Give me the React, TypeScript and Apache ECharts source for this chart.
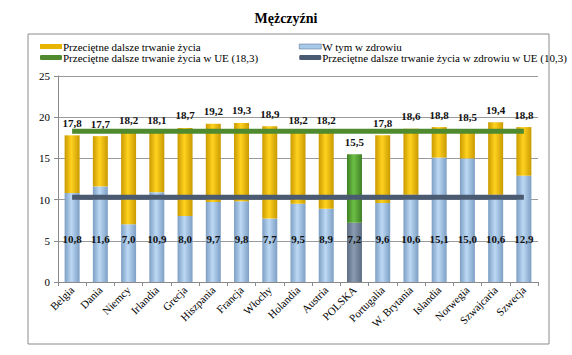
import React, { useEffect, useRef } from "react";
import * as echarts from "echarts";

const categories = [
  "Belgia", "Dania", "Niemcy", "Irlandia", "Grecja", "Hiszpania", "Francja", "Włochy",
  "Holandia", "Austria", "POLSKA", "Portugalia", "W. Brytania", "Islandia", "Norwegia",
  "Szwajcaria", "Szwecja",
];
const totalLife = [17.8, 17.7, 18.2, 18.1, 18.7, 19.2, 19.3, 18.9, 18.2, 18.2, 15.5, 17.8, 18.6, 18.8, 18.5, 19.4, 18.8];
const healthyLife = [10.8, 11.6, 7.0, 10.9, 8.0, 9.7, 9.8, 7.7, 9.5, 8.9, 7.2, 9.6, 10.6, 15.1, 15.0, 10.6, 12.9];
const euTotal = 18.3;
const euHealthy = 10.3;
const yTicks = [0, 5, 10, 15, 20, 25];

const FONT = "'Liberation Serif', 'Times New Roman', serif";
const fmt = (v: number) => v.toFixed(1).replace(".", ",");

const hGrad = (edge: string, mid: string) =>
  new echarts.graphic.LinearGradient(0, 0, 1, 0, [
    { offset: 0, color: edge },
    { offset: 0.45, color: mid },
    { offset: 1, color: edge },
  ]);

export default function App() {
  const ref = useRef<HTMLDivElement>(null);
  useEffect(() => {
    document.body.style.margin = "0";
    const chart = echarts.init(ref.current!, null, { renderer: "svg" });
    const polIdx = categories.indexOf("POLSKA");
    const yellow = hGrad("#c99a00", "#ffd21f");
    const blue = hGrad("#7d9fc4", "#bcd8f4");
    const green = hGrad("#3f7f24", "#6cbf45");
    const slate = hGrad("#5d6d82", "#8a9cb2");

    const healthyData = healthyLife.map((v, i) => ({
      value: v,
      itemStyle: { color: i === polIdx ? slate : blue },
    }));
    const restData = totalLife.map((t, i) => ({
      value: +(t - healthyLife[i]).toFixed(1),
      itemStyle: { color: i === polIdx ? green : yellow },
    }));

    const txt = { fontFamily: FONT, fontSize: 11, color: "#000" };

    chart.setOption({
      animation: false,
      textStyle: { fontFamily: FONT },
      title: {
        text: "Mężczyźni",
        left: "center",
        top: 6,
        textStyle: { fontFamily: FONT, fontSize: 14, fontWeight: "bold", color: "#000" },
      },
      graphic: [
        {
          type: "rect",
          shape: { x: 28, y: 34, width: 521, height: 310 },
          style: { fill: "none", stroke: "#8a8a8a", lineWidth: 1 },
          silent: true,
        },
      ],
      legend: [
        {
          left: 35,
          top: 36,
          orient: "vertical",
          itemWidth: 22,
          itemHeight: 5,
          itemGap: 0,
          textStyle: { ...txt, padding: [0, 0, 0, -4] },
          data: [
            { name: "Przeciętne dalsze trwanie życia", icon: "rect", itemStyle: { color: "#e8b400" } },
            { name: "Przeciętne dalsze trwanie życia w UE (18,3)", icon: "roundRect", itemStyle: { color: "#4f8a2e" } },
          ],
        },
        {
          left: 294,
          top: 36,
          orient: "vertical",
          itemWidth: 22,
          itemHeight: 5,
          itemGap: 0,
          textStyle: { ...txt, padding: [0, 0, 0, -4] },
          data: [
            { name: "W tym w zdrowiu", icon: "rect", itemStyle: { color: "#a9c9ea", borderColor: "#4a6480", borderWidth: 0.5 } },
            { name: "Przeciętne dalsze trwanie życia w zdrowiu w UE (10,3)", icon: "roundRect", itemStyle: { color: "#4a5a70" } },
          ],
        },
      ],
      grid: { left: 58, right: 34, top: 76, bottom: 73 },
      xAxis: {
        type: "category",
        data: categories,
        boundaryGap: true,
        axisLine: { lineStyle: { color: "#8a8a8a" } },
        axisTick: { show: true, alignWithLabel: false, length: 4, lineStyle: { color: "#8a8a8a" } },
        axisLabel: { ...txt, rotate: 45, interval: 0, margin: 6 },
      },
      yAxis: {
        type: "value",
        min: yTicks[0],
        max: yTicks[yTicks.length - 1],
        interval: 5,
        axisLine: { show: true, lineStyle: { color: "#8a8a8a" } },
        axisTick: { show: true, length: 4, lineStyle: { color: "#8a8a8a" } },
        axisLabel: { ...txt, margin: 8 },
        splitLine: { show: true, lineStyle: { color: "#9a9a9a", width: 1 } },
      },
      series: [
        {
          name: "W tym w zdrowiu",
          type: "bar",
          stack: "life",
          barWidth: 15,
          data: healthyData,
          label: {
            show: true,
            position: "insideBottom",
            distance: 38,
            formatter: (p: any) => fmt(p.value),
            ...txt,
            fontWeight: "bold",
            color: "#111",
          },
          z: 2,
        },
        {
          name: "Przeciętne dalsze trwanie życia",
          type: "bar",
          stack: "life",
          barWidth: 15,
          data: restData,
          label: {
            show: true,
            position: "top",
            distance: 7,
            formatter: (p: any) => fmt(totalLife[p.dataIndex]),
            ...txt,
            fontWeight: "bold",
            color: "#111",
          },
          z: 2,
        },
        {
          name: "Przeciętne dalsze trwanie życia w UE (18,3)",
          type: "line",
          data: categories.map(() => euTotal),
          symbol: "none",
          lineStyle: { color: "#4f8a2e", width: 5 },
          itemStyle: { color: "#4f8a2e" },
          z: 5,
        },
        {
          name: "Przeciętne dalsze trwanie życia w zdrowiu w UE (10,3)",
          type: "line",
          data: categories.map(() => euHealthy),
          symbol: "none",
          lineStyle: { color: "#4a5a70", width: 5 },
          itemStyle: { color: "#4a5a70" },
          z: 5,
        },
      ],
    });
    return () => chart.dispose();
  }, []);
  return <div ref={ref} style={{ width: 572, height: 355 }} />;
}
